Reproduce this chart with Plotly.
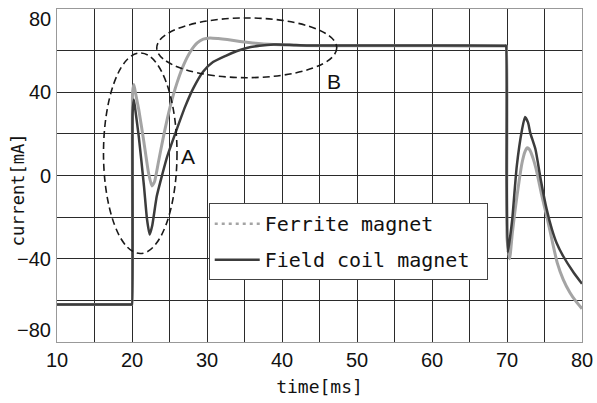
import plotly.graph_objects as go

# ---- data ----
ferrite_t = [10, 19.95, 20.0, 20.08, 20.25, 20.5, 20.9, 21.6, 22.2, 22.65, 23.0, 23.5, 24.2, 25.1, 26.0,
             26.9, 27.8, 28.7, 29.5, 30.4, 31.5, 32.7, 34.4, 36.5, 38.9, 42, 50, 60, 69.8, 69.9,
             70.0, 70.35, 70.7, 71.1, 71.6, 72.0, 72.4, 72.7, 73.0, 73.5, 74.0, 74.6, 75.3, 76.0,
             76.7, 77.5, 78.4, 79.2, 80]
ferrite_i = [-62, -62, -62, 40, 43.7, 39, 31.7, 15.7, 1.3, -5, -3, 6, 18.8, 33.2, 44.5,
             53.3, 59.6, 63.7, 65.5, 66.1, 65.8, 65.3, 64.4, 63.5, 62.9, 62.5, 62.3, 62.3, 62.2, 62.2,
             -30, -40, -28, -16, -3, 6, 11.5, 13.3, 12.5, 8, 1.3, -9, -19.6, -31,
             -42, -50, -56.3, -60.5, -64]

coil_t = [10, 19.95, 20.0, 20.08, 20.25, 20.5, 20.9, 21.6, 22.0, 22.35, 22.7, 23.3, 24.0, 24.7, 25.8,
          27.1, 28.2, 29.5, 30.8, 32.5, 34.0, 35.3, 37.0, 38.9, 41.0, 43.3, 50, 60, 69.75, 69.85,
          69.95, 70.1, 70.4, 70.7, 71.3, 72.0, 72.4, 72.8, 73.1, 73.8, 74.5, 75.3, 76.0, 76.6,
          77.5, 78.9, 80]
coil_i = [-62, -62, -62, 30, 36.5, 30, 18.8, -5.2, -21, -28.4, -24, -10, 0, 9.2, 20.5,
          33.2, 42.1, 50, 54.5, 57.5, 59.8, 61.3, 62.3, 62.9, 62.8, 62.5, 62.5, 62.5, 62.4, 62.4,
          0, -37, -30, -21, 4.4, 22, 28.1, 25.5, 20.5, 12.5, -2, -16.4, -26, -32.3,
          -38.8, -46.7, -52]

series_names = ["Ferrite magnet", "Field coil magnet"]

x_ticks = [10, 15, 20, 25, 30, 35, 40, 45, 50, 55, 60, 65, 70, 75, 80]
x_ticktext = ["10", "", "20", "", "30", "", "40", "", "50", "", "60", "", "70", "", "80"]
y_grid = [-80, -60, -40, -20, 0, 20, 40, 60, 80]
y_labels = [-80, -40, 0, 40, 80]
y_labeltext = ["\u221280", "\u221240", "0", "40", "80"]

GRAY = "#a4a4a4"
DARK = "#3c3c3c"
MONO = "DejaVu Sans Mono"
SANS = "Liberation Sans, Arial, sans-serif"

fig = go.Figure()
fig.add_trace(go.Scatter(x=ferrite_t, y=ferrite_i, mode="lines", showlegend=False,
                         line=dict(color=GRAY, width=3, shape="spline", smoothing=0.5)))
fig.add_trace(go.Scatter(x=coil_t, y=coil_i, mode="lines", showlegend=False,
                         line=dict(color=DARK, width=2.5, shape="spline", smoothing=0.5)))
# legend entries
fig.add_trace(go.Scatter(x=[None], y=[None], mode="lines", name=series_names[0], legendgroup="a",
                         line=dict(color=GRAY, width=2.5, dash="3px,4px")))
fig.add_trace(go.Scatter(x=[None], y=[None], mode="lines", name=series_names[1] + "\u00a0",
                         legendgroup="b", line=dict(color=DARK, width=2.5)))

ell = dict(type="circle", xref="x", yref="y", line=dict(color="#1a1a1a", width=1.6, dash="7px,4px"),
           fillcolor="rgba(0,0,0,0)", layer="above")
fig.add_shape(x0=16.2, x1=26.0, y0=-37.5, y1=58.9, **ell)
fig.add_shape(x0=23.3, x1=47.3, y0=47.0, y1=75.7, **ell)

fig.add_annotation(x=27.4, y=9, text="A", showarrow=False, font=dict(family=SANS, size=21, color="#111"))
fig.add_annotation(x=46.9, y=45, text="B", showarrow=False, font=dict(family=SANS, size=21, color="#111"))

# y tick labels (end labels sit slightly inside the frame, as in the reference)
for v, txt in zip(y_labels, y_labeltext):
    shift = -10 if v == max(y_labels) else (12 if v == min(y_labels) else 0)
    fig.add_annotation(xref="paper", yref="y", x=0, y=v, text=txt, showarrow=False,
                       xanchor="right", yanchor="middle", xshift=-4, yshift=shift,
                       font=dict(family=SANS, size=20, color="#111"))

fig.add_annotation(xref="paper", yref="paper", x=-0.0737, y=0.457, text="current[mA]",
                   textangle=-90, showarrow=False, xanchor="center", yanchor="middle",
                   font=dict(family=MONO, size=17, color="#111"))

axis_common = dict(showgrid=True, gridcolor="#2a2a2a", gridwidth=1, zeroline=False,
                   showline=True, linecolor="#999", linewidth=1, mirror=True, ticks="",
                   automargin=False)

fig.update_xaxes(range=[10, 80], tickmode="array", tickvals=x_ticks, ticktext=x_ticktext,
                 tickfont=dict(family=SANS, size=20, color="#111"), ticklabeloverflow="allow",
                 title=dict(text="time[ms]", font=dict(family=MONO, size=18, color="#111"), standoff=10),
                 **axis_common)
fig.update_yaxes(range=[-80, 80], tickmode="array", tickvals=y_grid, showticklabels=False,
                 **axis_common)

fig.update_layout(
    width=597, height=403,
    margin=dict(l=57, r=15, t=9, b=61),
    plot_bgcolor="white", paper_bgcolor="white",
    legend=dict(x=0.289, y=0.417, xanchor="left", yanchor="top",
                bgcolor="white", bordercolor="#444", borderwidth=1,
                font=dict(family=MONO, size=20, color="#111"),
                itemwidth=45, tracegroupgap=7),
)

fig.write_html("out.html", config={"displayModeBar": False},
               post_script="document.body.style.margin='0';document.body.style.padding='0';")
